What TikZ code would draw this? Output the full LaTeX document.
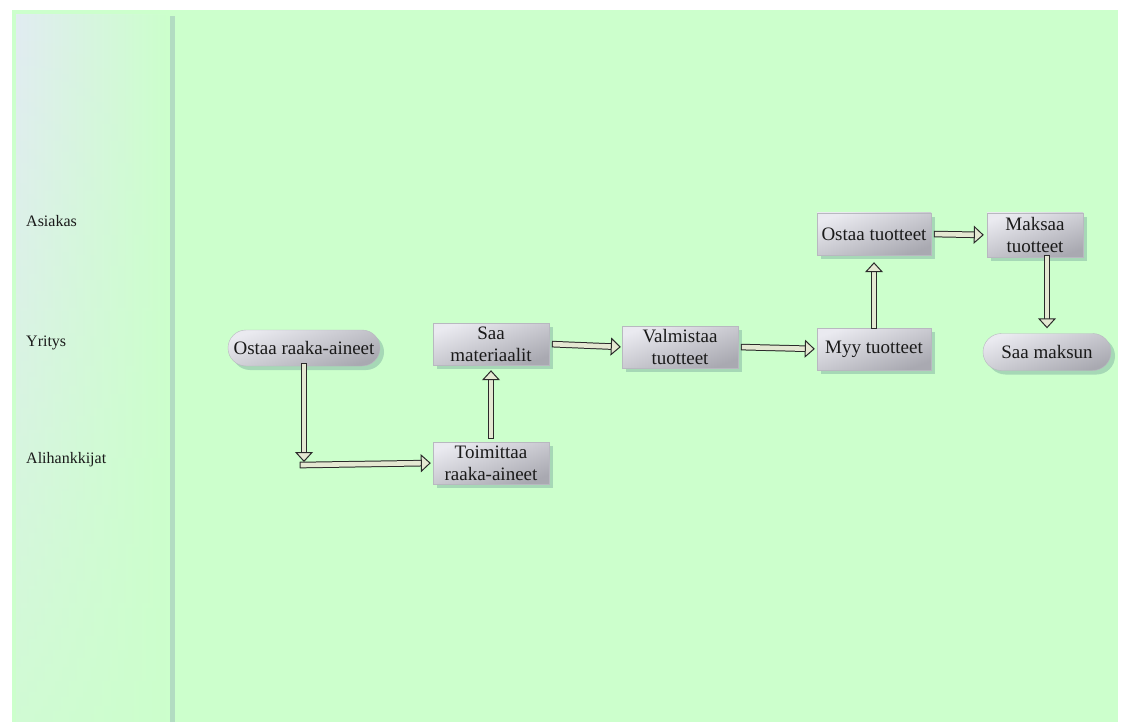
\documentclass[tikz,border=0pt]{standalone}
\usepackage{fontspec}
\setmainfont{Liberation Serif}
\usetikzlibrary{arrows.meta,shapes.misc,shadows,fadings}
\definecolor{bg}{HTML}{CCFFCC}
\definecolor{panelL}{HTML}{E2ECF2}
\definecolor{divider}{HTML}{B2DCC2}
\definecolor{shadowgreen}{HTML}{A6D8B6}
\definecolor{boxlight}{HTML}{EAEAF0}
\definecolor{boxdark}{HTML}{A9A9B1}
\definecolor{boxedge}{HTML}{B8B8C0}
\definecolor{txt}{HTML}{1A1A1A}
\definecolor{arrowdark}{HTML}{2A2A2A}
\definecolor{arrowfill}{HTML}{E4E8D2}
\tikzset{
  procbox/.style={rectangle, draw=boxedge, line width=0.4pt,
    top color=boxlight, bottom color=boxdark, shading angle=20,
    drop shadow={shadow xshift=4pt, shadow yshift=-4pt, fill=shadowgreen, opacity=1},
    inner sep=0pt, align=center, text=txt,
    font=\fontsize{19}{22}\selectfont},
  pill/.style={rounded rectangle, draw=boxedge, line width=0.4pt,
    top color=boxlight, bottom color=boxdark, shading angle=20,
    drop shadow={shadow xshift=4pt, shadow yshift=-4pt, fill=shadowgreen, opacity=1},
    inner sep=0pt, align=center, text=txt,
    font=\fontsize{19}{22}\selectfont},
  lane/.style={anchor=west, inner sep=0pt, text=txt, font=\fontsize{16}{19}\selectfont},
  flow/.style={draw=arrowdark, line width=1pt, double=arrowfill, double distance=4.6pt,
    line cap=rect,
    -{Triangle[length=10pt, width=18pt, fill=arrowfill, line width=1pt]}},
}
\begin{document}
\begin{tikzpicture}[x=1pt,y=-1pt]
\useasboundingbox (0,0) rectangle (1122,722);
\fill[white] (0,0) rectangle (1122,722);
\fill[bg] (12,10) rectangle (1118,722);
\fill[left color=panelL, right color=bg] (16,15) rectangle (170,722);
\fill[bg, path fading=north, opacity=0.8] (16,15) rectangle (170,722);
\fill[divider] (170,16) rectangle (175,722);

\node[lane] (asiakas) at (26,221) {Asiakas};
\node[lane] (yritys) at (26,343) {Yritys};
\node[lane] (alih) at (26,460) {Alihankkijat};

\node[pill, minimum width=152pt, minimum height=36pt] (ostaaRA) at (304,348) {Ostaa raaka-aineet};
\node[procbox, minimum width=116pt, minimum height=42pt] (saaMat) at (491,344) {Saa\\materiaalit};
\node[procbox, minimum width=116pt, minimum height=42pt] (toim) at (491,463) {Toimittaa\\raaka-aineet};
\node[procbox, minimum width=116pt, minimum height=42pt] (valm) at (680,347) {Valmistaa\\tuotteet};
\node[procbox, minimum width=114pt, minimum height=42pt] (myy) at (874,349) {Myy tuotteet};
\node[procbox, minimum width=114pt, minimum height=42pt] (ostaaT) at (874,234) {Ostaa tuotteet};
\node[procbox, minimum width=96pt, minimum height=44pt] (maksaa) at (1035,235) {Maksaa\\tuotteet};
\node[pill, minimum width=128pt, minimum height=37pt] (saaM) at (1047,352) {Saa maksun};

\coordinate (bendA) at (304,462);
\coordinate (bendB) at (303,465);

\draw[flow] (ostaaRA.south) -- (bendA);
\draw[flow, shorten >=2pt] (bendB) -- (toim.west);
\draw[flow, shorten <=6pt, shorten >=5pt] (toim.north) -- (saaMat.south);
\draw[flow, shorten <=6pt, shorten >=1pt] (saaMat.east) -- (valm.west);
\draw[flow, shorten <=6pt, shorten >=2pt] (valm.east) -- (myy.west);
\draw[flow, shorten <=2pt, shorten >=7pt] (myy.north) -- (ostaaT.south);
\draw[flow, shorten <=6pt, shorten >=3pt] (ostaaT.east) -- (maksaa.west);
\draw[flow, shorten <=1pt, shorten >=5pt] (maksaa.south -| saaM.north) -- (saaM.north);
\end{tikzpicture}
\end{document}
